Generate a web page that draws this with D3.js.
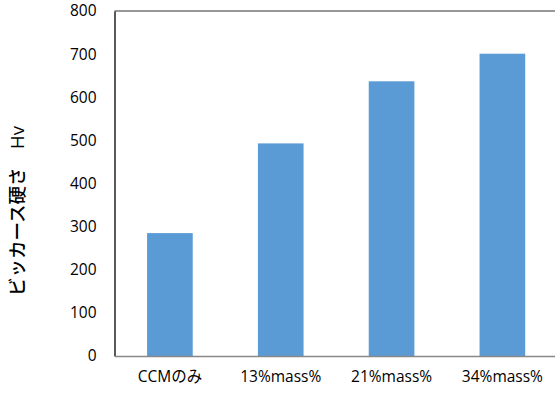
<!DOCTYPE html>
<html>
<head>
<meta charset="utf-8">
<script src="https://cdn.jsdelivr.net/npm/d3@7"></script>
<style>
  html, body { margin: 0; padding: 0; background: #fff; }
  svg { display: block; }
  text { font-family: "Open Sans", "Noto Sans CJK JP", sans-serif; }
</style>
</head>
<body>
<svg id="chart" width="555" height="396"></svg>
<script>
const categories = ["CCMのみ", "13%mass%", "21%mass%", "34%mass%"];
const hardness = [285, 493, 637, 701];
const yTicks = [0, 100, 200, 300, 400, 500, 600, 700, 800];
const yLabel = "ビッカース硬さ　Hv";

const svg = d3.select("#chart");
const margin = { left: 114.5, top: 11, right: -2.8, bottom: 40 };
const W = 555, H = 396;

const x = d3.scaleBand()
  .domain(categories)
  .range([margin.left, W - margin.right])
  .paddingInner(0.588)
  .paddingOuter(0.294);

const y = d3.scaleLinear().domain([0, 800]).range([356, margin.top]);

// plot frame top edge
svg.append("line")
  .attr("x1", margin.left).attr("x2", W)
  .attr("y1", y(800)).attr("y2", y(800))
  .attr("stroke", "#333").attr("stroke-width", 1.2);

// bars
svg.append("g").selectAll("rect")
  .data(categories)
  .join("rect")
  .attr("x", d => x(d))
  .attr("width", x.bandwidth())
  .attr("y", (d, i) => y(hardness[i]))
  .attr("height", (d, i) => y(0) - y(hardness[i]))
  .attr("fill", "#5B9BD5");

// y axis
const yAxis = svg.append("g")
  .attr("transform", `translate(${margin.left},0)`)
  .call(d3.axisLeft(y).tickValues(yTicks).tickSize(0).tickPadding(18));
yAxis.select(".domain").attr("stroke", "#000").attr("stroke-width", 1.3);
yAxis.selectAll("text").attr("font-size", 15.5).attr("fill", "#000")
  .attr("font-family", "'Open Sans', sans-serif");

// x axis
const xAxis = svg.append("g")
  .attr("transform", `translate(0,${y(0)})`)
  .call(d3.axisBottom(x).tickSize(0).tickPadding(15));
xAxis.select(".domain").attr("stroke", "#888").attr("stroke-width", 1.6);
xAxis.selectAll("text").attr("font-size", 15.5).attr("fill", "#000")
  .attr("font-family", "'Open Sans', 'Noto Sans CJK JP', sans-serif");

// y axis title
svg.append("text")
  .attr("transform", `translate(24,211) rotate(-90)`)
  .attr("text-anchor", "middle")
  .attr("font-size", 18.5)
  .attr("font-weight", 500)
  .attr("font-family", "'Noto Sans CJK JP', sans-serif")
  .attr("fill", "#000")
  .text(yLabel);
</script>
</body>
</html>
